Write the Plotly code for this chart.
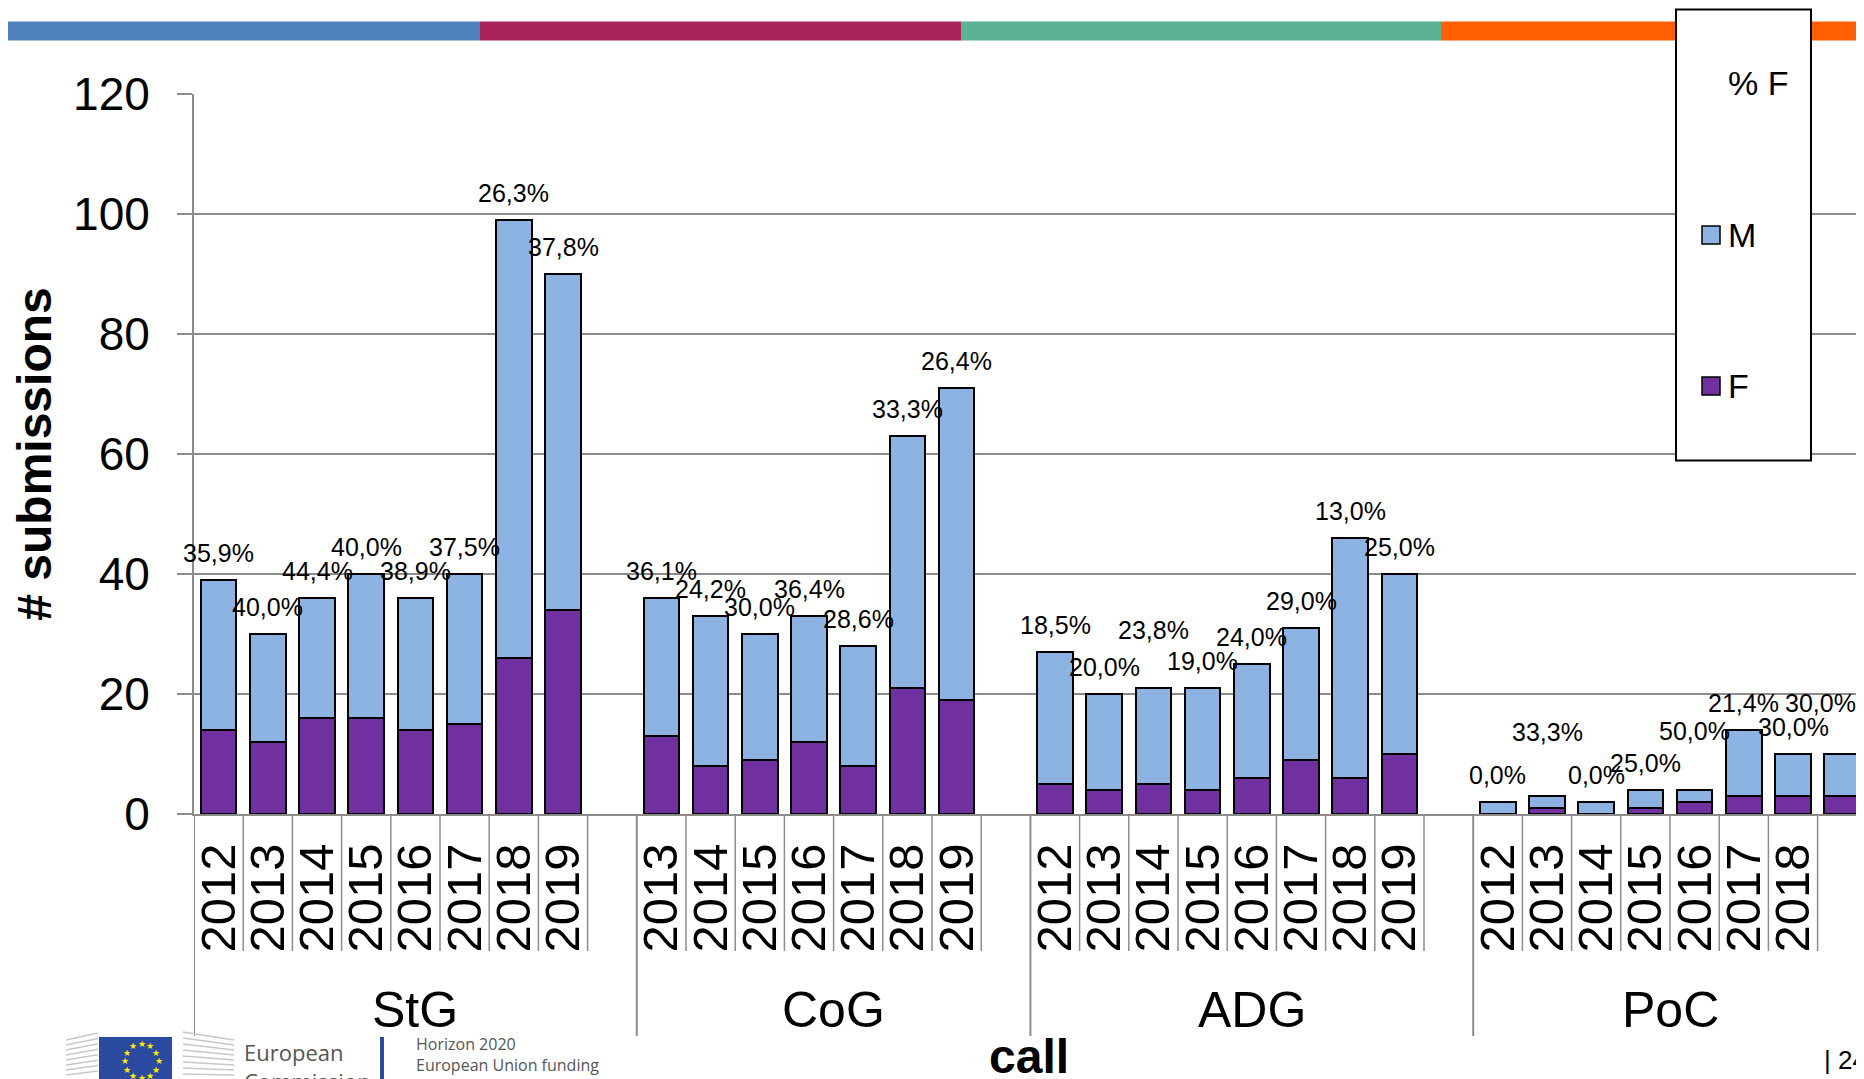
import math
import plotly.graph_objects as go

# ---------------- data ----------------
groups = ["StG", "CoG", "ADG", "PoC"]

years_stg = ["2012", "2013", "2014", "2015", "2016", "2017", "2018", "2019"]
years_cog = ["2013", "2014", "2015", "2016", "2017", "2018", "2019"]
years_adg = ["2012", "2013", "2014", "2015", "2016", "2017", "2018", "2019"]
years_poc = ["2012", "2013", "2014", "2015", "2016", "2017", "2018", "2019"]

f_stg = [14, 12, 16, 16, 14, 15, 26, 34]
m_stg = [25, 18, 20, 24, 22, 25, 73, 56]
f_cog = [13, 8, 9, 12, 8, 21, 19]
m_cog = [23, 25, 21, 21, 20, 42, 52]
f_adg = [5, 4, 5, 4, 6, 9, 6, 10]
m_adg = [22, 16, 16, 17, 19, 22, 40, 30]
f_poc = [0, 1, 0, 1, 2, 3, 3, 3]
m_poc = [2, 2, 2, 3, 2, 11, 7, 7]

pct_stg = [35.9, 40.0, 44.4, 40.0, 38.9, 37.5, 26.3, 37.8]
pct_cog = [36.1, 24.2, 30.0, 36.4, 28.6, 33.3, 26.4]
pct_adg = [18.5, 20.0, 23.8, 19.0, 24.0, 29.0, 13.0, 25.0]
pct_poc = [0.0, 33.3, 0.0, 25.0, 50.0, 21.4, 30.0, 30.0]

series_names = ["M", "F"]
pct_name = "% F"
x_title = "call"
y_title = "# submissions"

# ---------------- styling ----------------
FONT = "Liberation Sans, Arial, sans-serif"
C_M = "#8DB3E2"
C_F = "#7030A0"
GRID = "#8C8C8C"

OFF = 8  # the page body margin shifts the figure by 8px
W, H = 1864 - OFF, 1079 - OFF
PL, PR, PT, PB = 194 - OFF, W, 94 - OFF, 814 - OFF
SLOT = 49.2                              # pixels per category slot
X_MAX = -0.5 + (PR - PL) / SLOT

# Excel moved a few labels to avoid overlaps (pixel nudges: dx, dy)
label_nudge = {("ADG", "2014"): (0, 31), ("PoC", "2013"): (0, 37),
               ("PoC", "2016"): (0, 32), ("PoC", "2019"): (-22, 24)}


def px(xr):
    """screen x (page pixels) -> paper x"""
    return (xr - OFF - PL) / (PR - PL)


def py(yr):
    """screen y (page pixels) -> paper y"""
    return (PB - (yr - OFF)) / (PB - PT)


group_data = [
    ("StG", years_stg, f_stg, m_stg, pct_stg),
    ("CoG", years_cog, f_cog, m_cog, pct_cog),
    ("ADG", years_adg, f_adg, m_adg, pct_adg),
    ("PoC", years_poc, f_poc, m_poc, pct_poc),
]

xs, f_all, m_all, yr_all, pct_all, keys = [], [], [], [], [], []
group_spans = []
slot = 0
for gi, (gname, yrs, fv, mv, pv) in enumerate(group_data):
    start = slot
    for k, yr in enumerate(yrs):
        xs.append(start + k)
        f_all.append(fv[k])
        m_all.append(mv[k])
        yr_all.append(yr)
        pct_all.append(pv[k])
        keys.append((gname, yr))
    n_slots = len(yrs) + (1 if gi < len(group_data) - 1 else 0)
    group_spans.append((gname, start, n_slots))
    slot = start + n_slots

fig = go.Figure()
fig.add_trace(go.Bar(x=xs, y=f_all, name=series_names[1],
                     marker=dict(color=C_F, line=dict(color="black", width=2)), showlegend=False))
fig.add_trace(go.Bar(x=xs, y=m_all, name=series_names[0],
                     marker=dict(color=C_M, line=dict(color="black", width=2)), showlegend=False))

annotations = []
# percentage labels
for x, f, m, p, key in zip(xs, f_all, m_all, pct_all, keys):
    dx, dy = label_nudge.get(key, (0, 0))
    annotations.append(dict(x=x, y=f + m, xref="x", yref="y", text=f"{p:.1f}%".replace(".", ","),
                            showarrow=False, yanchor="bottom", xanchor="center", yshift=11 + dy, xshift=dx,
                            font=dict(family=FONT, size=25, color="black")))

shapes = []
# category dividers below the axis
for gi, (gname, start, n_slots) in enumerate(group_spans):
    shapes.append(dict(type="line", xref="x", yref="paper", x0=start - 0.5, x1=start - 0.5,
                       y0=py(814), y1=py(1036), line=dict(color=GRID, width=2)))
    for s in range(start, start + n_slots - 1):
        shapes.append(dict(type="line", xref="x", yref="paper", x0=s + 0.5, x1=s + 0.5,
                           y0=py(814), y1=py(951), line=dict(color=GRID, width=1.5)))
    annotations.append(dict(x=start + (n_slots - 1) / 2, y=py(1010), xref="x", yref="paper", text=gname,
                            showarrow=False, xanchor="center", yanchor="middle",
                            font=dict(family=FONT, size=50, color="black")))

# x-axis title ("call"), centred under the plot area
annotations.append(dict(x=0.5, y=py(1028), xref="paper", yref="paper", text=f"<b>{x_title}</b>",
                        showarrow=False, xanchor="center", yanchor="top",
                        font=dict(family=FONT, size=48, color="black")))

# top colour band
band = [("#4F81BD", 0, 480), ("#A8235A", 480, 961), ("#5BB394", 961, 1441), ("#FF5F00", 1441, 1864)]
for col, a, b in band:
    shapes.append(dict(type="rect", xref="paper", yref="paper", x0=px(max(a, OFF)), x1=px(min(b, W + OFF)),
                       y0=py(40.5), y1=py(21.5), fillcolor=col, line=dict(width=0), layer="above"))

# legend box (drawn like the Excel legend)
shapes.append(dict(type="rect", xref="paper", yref="paper", x0=px(1676), x1=px(1811), y0=py(460.5), y1=py(9.5),
                   fillcolor="white", line=dict(color="black", width=2), layer="above"))
leg_items = [(pct_name, None, 83.5), (series_names[0], C_M, 235), (series_names[1], C_F, 386)]
for name, col, yc in leg_items:
    if col is not None:
        shapes.append(dict(type="rect", xref="paper", yref="paper", x0=px(1702), x1=px(1720),
                           y0=py(yc + 9), y1=py(yc - 9), fillcolor=col,
                           line=dict(color="black", width=1.5), layer="above"))
    annotations.append(dict(x=px(1726), y=py(yc), xref="paper", yref="paper", text=name, showarrow=False,
                            xanchor="left", yanchor="middle", font=dict(family=FONT, size=34, color="black")))

# footer: European Commission logo (simplified) and page number
shapes.append(dict(type="rect", xref="paper", yref="paper", x0=px(99), x1=px(172), y0=py(1085), y1=py(1037),
                   fillcolor="#2A4A9F", line=dict(width=0), layer="above"))
for i in range(12):
    ang = 2 * math.pi * i / 12
    annotations.append(dict(x=px(135.5 + 17 * math.cos(ang)), y=py(1068 + 17 * math.sin(ang)),
                            xref="paper", yref="paper", text="★", showarrow=False,
                            font=dict(size=9, color="#FFED00", family="DejaVu Sans")))
for k in range(8):
    shapes.append(dict(type="line", xref="paper", yref="paper", x0=px(66), x1=px(98),
                       y0=py(1040 + 5 * k), y1=py(1036 + 5 * k - 3 * (7 - k) / 7),
                       line=dict(color="#C8C8C8", width=1.5), layer="above"))
    shapes.append(dict(type="line", xref="paper", yref="paper", x0=px(183), x1=px(234),
                       y0=py(1032 + 6 * k), y1=py(1040 + 5 * k),
                       line=dict(color="#C8C8C8", width=1.5), layer="above"))
annotations.append(dict(x=px(242), y=py(1035), xref="paper", yref="paper", text="European<br>Commission",
                        showarrow=False, xanchor="left", yanchor="top", align="left",
                        font=dict(family="Open Sans, Liberation Sans, sans-serif", size=22, color="#555555")))
shapes.append(dict(type="rect", xref="paper", yref="paper", x0=px(380), x1=px(384), y0=py(1085), y1=py(1037),
                   fillcolor="#2A4A9F", line=dict(width=0), layer="above"))
annotations.append(dict(x=px(414), y=py(1031), xref="paper", yref="paper",
                        text="Horizon 2020<br>European Union funding<br>for Research &amp; Innovation",
                        showarrow=False, xanchor="left", yanchor="top", align="left",
                        font=dict(family="Open Sans, Liberation Sans, sans-serif", size=16, color="#555555")))
annotations.append(dict(x=px(1822), y=py(1060), xref="paper", yref="paper", text="| 24", showarrow=False,
                        xanchor="left", yanchor="middle", font=dict(family=FONT, size=26, color="black")))

fig.update_layout(
    width=W, height=H,
    margin=dict(l=PL, r=W - PR, t=PT, b=H - PB, autoexpand=False),
    paper_bgcolor="white", plot_bgcolor="white",
    barmode="stack", bargap=0.28,
    font=dict(family=FONT, color="black"),
    showlegend=False,
    shapes=shapes, annotations=annotations,
    xaxis=dict(
        range=[-0.5, X_MAX], tickmode="array", tickvals=xs, ticktext=yr_all, tickangle=-90,
        tickfont=dict(family=FONT, size=49, color="black"), ticks="", ticklabelstandoff=8,
        showgrid=False, zeroline=False, showline=True, linecolor=GRID, linewidth=2,
        automargin=False,
    ),
    yaxis=dict(
        range=[0, 120], tickvals=[0, 20, 40, 60, 80, 100, 120],
        tickfont=dict(family=FONT, size=46, color="black"),
        ticks="outside", ticklen=15, tickwidth=2, tickcolor=GRID, ticklabelstandoff=18,
        showgrid=True, gridcolor=GRID, gridwidth=2, zeroline=False,
        showline=True, linecolor=GRID, linewidth=2,
        title=dict(text=f"<b>{y_title}</b>", font=dict(family=FONT, size=48, color="black"), standoff=10),
        automargin=False,
    ),
)

fig.write_html("out.html")
